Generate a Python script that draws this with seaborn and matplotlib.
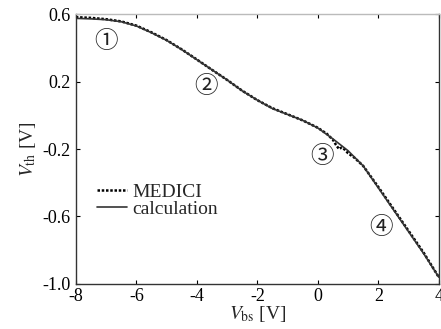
import matplotlib
matplotlib.use("Agg")
import matplotlib.pyplot as plt
import seaborn as sns
import pandas as pd

# data
calc_x = [-8, -7.5, -7, -6.5, -6, -5.5, -5, -4.5, -4, -3.5, -3, -2.5, -2, -1.5,
          -1, -0.5, 0, 0.5, 1, 1.5, 2, 2.5, 3, 3.5, 4]
calc_y = [0.575, 0.572, 0.567, 0.555, 0.53, 0.49, 0.445, 0.39, 0.33, 0.27, 0.21,
          0.145, 0.09, 0.04, 0.005, -0.03, -0.075, -0.14, -0.21, -0.3, -0.43,
          -0.56, -0.69, -0.82, -0.96]
medici_x = [-8, -7.5, -7, -6.5, -6, -5.5, -5, -4.5, -4, -3.5, -3, -2.5, -2, -1.5,
            -1, -0.5, 0, 0.3, 0.5, 0.6, 0.7, 0.8, 0.9, 1.0, 1.2, 1.5, 2, 2.5, 3,
            3.5, 4]
medici_y = [0.582, 0.578, 0.57, 0.557, 0.532, 0.492, 0.446, 0.391, 0.331, 0.27,
            0.21, 0.146, 0.09, 0.042, 0.006, -0.03, -0.074, -0.11, -0.145,
            -0.175, -0.2, -0.19, -0.205, -0.225, -0.25, -0.3, -0.425, -0.555,
            -0.685, -0.815, -0.96]
x_ticks = [-8, -6, -4, -2, 0, 2, 4]
y_ticks = [0.6, 0.2, -0.2, -0.6, -1.0]
labels = ["\u2460", "\u2461", "\u2462", "\u2463"]
label_x = [-7.0, -3.7, 0.15, 2.1]
label_y = [0.44, 0.17, -0.245, -0.665]

sns.set_style("ticks")
plt.rcParams["font.family"] = ["Liberation Serif", "DejaVu Serif"]
plt.rcParams["mathtext.fontset"] = "stix"
plt.rcParams["axes.unicode_minus"] = False

fig = plt.figure(figsize=(4.41, 3.29), dpi=100)
ax = fig.add_axes([0.172, 0.137, 0.823, 0.82])

df_m = pd.DataFrame({"x": medici_x, "y": medici_y})
df_c = pd.DataFrame({"x": calc_x, "y": calc_y})
sns.lineplot(data=df_m, x="x", y="y", ax=ax, color="black", lw=1.8,
             linestyle=(0, (1, 0.7)), label="MEDICI", sort=False)
sns.lineplot(data=df_c, x="x", y="y", ax=ax, color="#333333", lw=1.2,
             label="calculation", sort=False)

ax.set_xlim(-8, 4)
ax.set_ylim(-1.0, 0.6)
ax.set_xticks(x_ticks)
ax.set_yticks(y_ticks)
ax.set_xticklabels([f"{v:g}" for v in x_ticks])
ax.set_yticklabels([f"{v:.1f}" for v in y_ticks])
ax.tick_params(direction="in", length=3, width=0.8, top=True, right=True,
               labelsize=13, colors="black")
ax.tick_params(axis="x", pad=3)
ax.tick_params(axis="y", pad=4)
for s in ax.spines.values():
    s.set_linewidth(1.0)
    s.set_color("#333333")
ax.spines["top"].set_color("#bbbbbb")

ax.set_xlabel(r"$V_{\rm bs}$ [V]", fontsize=14, labelpad=-1)
ax.set_ylabel(r"$V_{\rm th}$ [V]", fontsize=14, labelpad=3)

for t, x, y in zip(labels, label_x, label_y):
    ax.text(x, y, t, fontsize=17, ha="center", va="center",
            family=["Noto Sans CJK JP", "DejaVu Sans"], color="#222222")

leg = ax.legend(loc="lower left", bbox_to_anchor=(0.038, 0.215), frameon=False,
                fontsize=14, handlelength=1.5, handletextpad=0.3,
                labelspacing=0.0, borderaxespad=0)

fig.savefig("out.png", dpi=100)
